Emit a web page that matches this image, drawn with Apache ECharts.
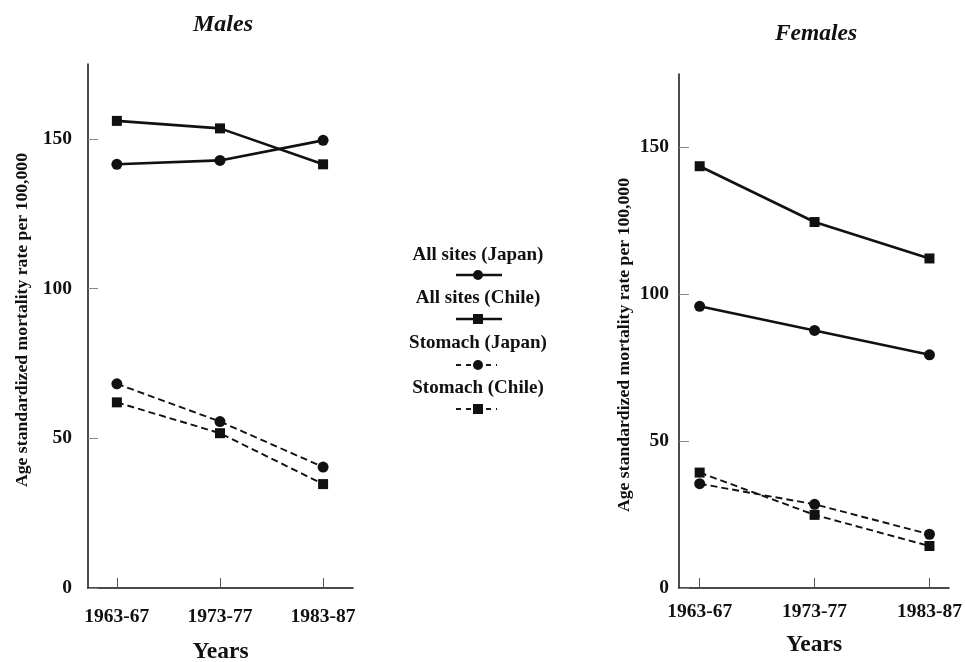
<!DOCTYPE html>
<html>
<head>
<meta charset="utf-8">
<script src="https://cdn.jsdelivr.net/npm/echarts@6/dist/echarts.min.js"></script>
<style>html,body{margin:0;padding:0;background:#fff}#c{width:965px;height:662px}</style>
</head>
<body>
<div id="c"></div>
<script>
// ---- data ----
const categories = ['1963-67', '1973-77', '1983-87'];
const yTicks = [0, 50, 100, 150];
const seriesNames = ['All sites (Japan)', 'All sites (Chile)', 'Stomach (Japan)', 'Stomach (Chile)'];
const malesAllJapan = [141.5, 142.8, 149.5];
const malesAllChile = [156.0, 153.5, 141.5];
const malesStomachJapan = [68.2, 55.6, 40.4];
const malesStomachChile = [62.0, 51.7, 34.7];
const femalesAllJapan = [95.9, 87.7, 79.4];
const femalesAllChile = [143.6, 124.6, 112.2];
const femalesStomachJapan = [35.5, 28.5, 18.3];
const femalesStomachChile = [39.3, 24.9, 14.3];

const FONT = '"Liberation Serif", "DejaVu Serif", serif';
const INK = '#111';

function pts(arr) { return arr.map((v, i) => [i, v]); }

const styles = [
  { symbol: 'circle', size: 11, type: 'solid', width: 2.6 },
  { symbol: 'rect', size: 10, type: 'solid', width: 2.6 },
  { symbol: 'circle', size: 11, type: [7, 4], width: 1.9 },
  { symbol: 'rect', size: 10, type: [7, 4], width: 1.9 }
];

function mkSeries(name, arr, st, gi) {
  return {
    name: name, type: 'line', xAxisIndex: gi, yAxisIndex: gi,
    data: pts(arr), symbol: st.symbol, symbolSize: st.size,
    showSymbol: true, animation: false, silent: true,
    lineStyle: { color: INK, width: st.width, type: st.type },
    itemStyle: { color: INK, borderWidth: 0 }
  };
}

function xAxis(gi, min, max, margin, nameGap) {
  return {
    type: 'value', gridIndex: gi, min: min, max: max,
    splitLine: { show: false },
    axisLine: { show: true, onZero: false, lineStyle: { color: INK, width: 1.5 } },
    axisTick: { show: true, inside: true, length: 10, customValues: [0, 1, 2], lineStyle: { color: '#555', width: 1 } },
    axisLabel: { customValues: [0, 1, 2], formatter: v => categories[Math.round(v)] || '', margin: margin,
      fontFamily: FONT, fontWeight: 'bold', fontSize: 19.5, color: INK },
    name: 'Years', nameLocation: 'middle', nameGap: nameGap,
    nameTextStyle: { fontFamily: FONT, fontWeight: 'bold', fontSize: 23.5, color: INK }
  };
}
function yAxis(gi, margin, nameGap, pad) {
  return {
    type: 'value', gridIndex: gi, min: 0, max: 175,
    splitLine: { show: false },
    axisLine: { show: true, onZero: false, lineStyle: { color: INK, width: 1.5 } },
    axisTick: { show: true, inside: true, length: 10, customValues: yTicks, lineStyle: { color: '#888', width: 1 } },
    axisLabel: { customValues: yTicks, margin: margin, fontFamily: FONT, fontWeight: 'bold', fontSize: 19.5, color: INK },
    name: 'Age standardized mortality rate per 100,000', nameLocation: 'middle', nameRotate: 90, nameGap: nameGap,
    nameTextStyle: { fontFamily: FONT, fontWeight: 'bold', fontSize: 17.7, color: INK, padding: pad }
  };
}

// legend drawn as graphic (text above its line sample)
const legendGraphics = [];
const legTextY = [255, 298, 343, 388];
const legLineY = [275, 319, 365, 409];
seriesNames.forEach((n, i) => {
  const st = styles[i];
  legendGraphics.push({ type: 'text', x: 478, y: legTextY[i], style: { text: n, fill: INK, font: 'bold 19px ' + FONT, textAlign: 'center', textVerticalAlign: 'middle' } });
  const dashed = i >= 2;
  legendGraphics.push({ type: 'line', shape: { x1: 456, y1: legLineY[i], x2: dashed ? 497 : 502, y2: legLineY[i] },
    style: { stroke: INK, lineWidth: st.width, lineDash: dashed ? [5, 5] : null } });
  if (st.symbol === 'circle') {
    legendGraphics.push({ type: 'circle', shape: { cx: 478, cy: legLineY[i], r: 5 }, style: { fill: INK } });
  } else {
    legendGraphics.push({ type: 'rect', shape: { x: 473, y: legLineY[i] - 5, width: 10, height: 10 }, style: { fill: INK } });
  }
});

const option = {
  backgroundColor: '#fff',
  animation: false,
  title: [
    { text: 'Males', left: 218, top: 8, textAlign: 'center', textStyle: { fontFamily: FONT, fontWeight: 'bold', fontStyle: 'italic', fontSize: 24, color: INK } },
    { text: 'Females', left: 811, top: 17, textAlign: 'center', textStyle: { fontFamily: FONT, fontWeight: 'bold', fontStyle: 'italic', fontSize: 23.5, color: INK } }
  ],
  grid: [
    { left: 88, top: 64, width: 265, height: 524, outerBoundsMode: 'none' },
    { left: 679, top: 74, width: 270, height: 514, outerBoundsMode: 'none' }
  ],
  xAxis: [xAxis(0, -0.28, 2.29, 19, 52), xAxis(1, -0.18, 2.17, 14, 45)],
  yAxis: [yAxis(0, 16, 57, [0, 0, 0, 12]), yAxis(1, 10, 46, [0, 28, 0, 0])],
  graphic: legendGraphics,
  series: [
    mkSeries(seriesNames[0], malesAllJapan, styles[0], 0),
    mkSeries(seriesNames[1], malesAllChile, styles[1], 0),
    mkSeries(seriesNames[2], malesStomachJapan, styles[2], 0),
    mkSeries(seriesNames[3], malesStomachChile, styles[3], 0),
    mkSeries(seriesNames[0], femalesAllJapan, styles[0], 1),
    mkSeries(seriesNames[1], femalesAllChile, styles[1], 1),
    mkSeries(seriesNames[2], femalesStomachJapan, styles[2], 1),
    mkSeries(seriesNames[3], femalesStomachChile, styles[3], 1)
  ]
};
const chart = echarts.init(document.getElementById('c'), null, { renderer: 'canvas' });
chart.setOption(option);
</script>
</body>
</html>
